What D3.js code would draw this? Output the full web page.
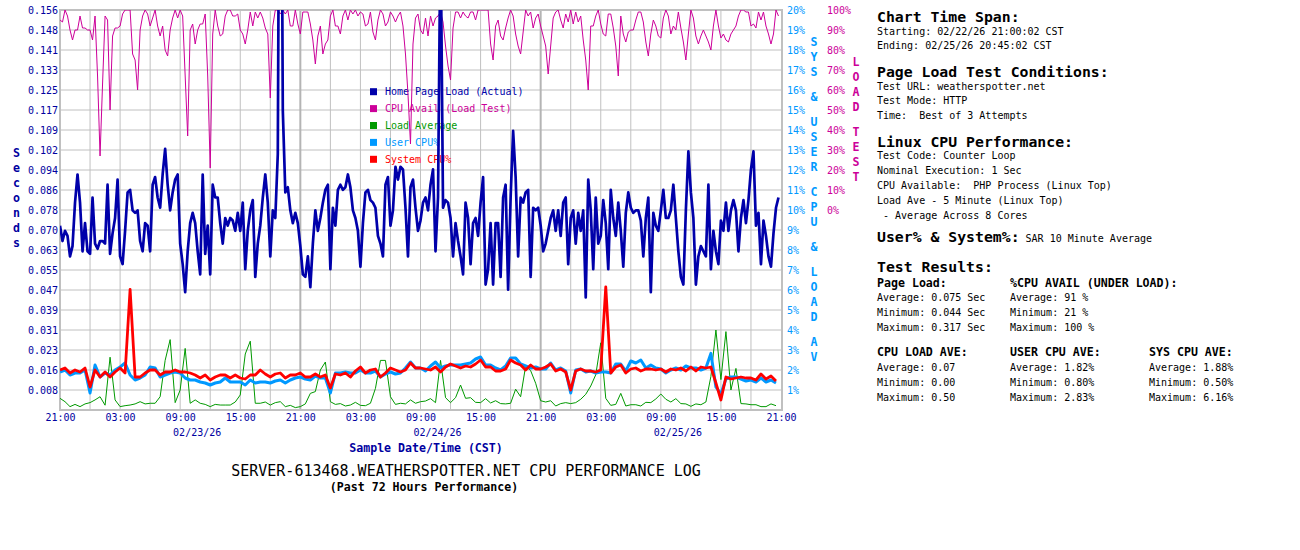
<!DOCTYPE html>
<html>
<head>
<meta charset="utf-8">
<title>CPU Performance Log</title>
<script src="https://cdn.jsdelivr.net/npm/d3@7"></script>
<style>
  body { margin: 0; background: #fff; }
  svg { display: block; }
  text { font-family: "DejaVu Sans Mono", "Liberation Mono", monospace; white-space: pre; }
</style>
</head>
<body>
<div id="chart"></div>
<script>
// ---- data read off the log ----
// home page load, one sample every 15 minutes (milliseconds)
const pageLoadMs = [
  72,66,70,68,60,64,81,92,81,62, 73,62,61,83,65,63,66,66,65,88,
  61,69,75,90,60,57,70,85,86,78, 77,78,66,62,73,72,62,88,91,83,
  79,92,102,88,78,85,90,92,65,57, 46,62,73,77,73,62,53,92,61,72,
  53,88,83,83,73,65,75,72,75,74, 70,77,70,
  81,55,70,78,82,52,65,72,83,92, 81,60,78,75,100,317,117,85,87,78,
  73,77,73,64,53,52,60,48,65,78, 70,75,81,86,88,55,79,72,86,88,
  86,87,92,87,78,75,70,56,73,85, 86,82,81,79,68,65,60,88,91,72,
  78,95,90,95,94,79,60,87,90,79, 70,74,
  81,83,78,88,94,62,83,190,79,82, 81,75,60,73,66,60,53,81,75,57,
  73,75,68,81,91,49,55,73,49,73, 73,52,83,88,47,83,109,91,60,83,
  81,85,86,52,79,78,79,72,62,65, 70,75,78,70,78,68,81,83,57,75,
  78,65,77,70,78,44,90,78,55,83, 65,68,
  82,73,55,86,75,68,81,70,56,77, 85,79,77,78,78,74,60,75,83,46,
  77,72,70,78,86,75,75,78,88,75, 62,52,49,78,101,85,75,49,60,64,
  62,60,88,55,70,62,57,74,70,81, 70,78,82,78,62,75,82,73,82,94,
  101,72,77,57,74,68,60,56,69,79, 83
];

// CPU available to the PHP load test, every 15 minutes (%)
const cpuAvail = [
  95,94,100,97,90,85,90,90,97,91, 91,90,90,85,97,67,27,63,97,95,
  50,87,91,91,92,98,100,100,100,78, 75,60,90,97,100,98,92,96,100,92,
  87,92,80,77,90,96,100,96,100,97, 67,37,90,93,83,90,93,93,98,67,
  21,88,100,92,87,88,97,100,100,97, 97,98,90,
  88,83,90,99,92,99,96,99,96,91, 88,56,92,100,100,98,100,98,100,92,
  92,100,93,88,99,99,99,93,85,73, 87,92,78,83,85,97,100,92,92,88,
  97,100,95,100,98,100,97,99,98,92, 93,99,89,85,95,100,98,92,94,99,
  97,94,97,99,92,78,58,33,83,96, 98,90,
  88,96,87,97,92,96,97,99,94,82, 72,65,91,99,99,96,99,97,96,99,
  99,95,100,100,100,100,100,83,75,92, 95,87,85,91,96,100,97,88,82,78,
  89,100,97,99,91,96,98,92,87,82, 68,82,96,99,100,95,91,98,94,100,
  93,99,94,97,85,75,60,92,92,97, 100,93,
  88,87,98,98,91,82,67,97,88,84, 89,90,90,95,99,99,94,84,77,88,
  95,92,87,86,96,100,97,88,92,90, 99,91,84,75,88,100,96,87,83,87,
  90,87,84,80,92,100,92,86,88,85, 84,88,90,92,97,100,100,99,99,92,
  93,91,99,95,99,92,88,83,88,100, 97
];

// 5 minute load average (per core), every 30 minutes
const loadAve = [
  0.073,0.052,0.021,0.035,0.021,0.038,0.046,0.063,0.083,0.03,0.33,0.063,0.021,0.027,0.031,0.038,0.052,0.038,0.042,0.042,
  0.083,0.31,0.44,0.046,0.125,0.385,0.042,0.063,0.042,0.035,0.021,0.035,0.031,0.031,0.031,0.05,0.094,
  0.35,0.43,0.042,0.042,0.05,0.031,0.046,0.052,0.021,0.029,0.015,0.021,0.038,0.104,0.115,0.25,0.30,0.052,0.035,0.04,
  0.025,0.031,0.048,0.029,0.027,0.042,0.135,0.31,0.31,0.083,0.035,0.042,0.038,0.063,0.042,0.052,
  0.056,0.071,0.046,0.31,0.077,0.046,0.077,0.156,0.073,0.077,0.048,0.046,0.071,0.044,0.058,0.04,0.038,0.042,0.13,0.083,
  0.275,0.246,0.167,0.058,0.05,0.058,0.025,0.04,0.046,0.04,0.046,0.067,0.098,0.15,0.22,0.42,
  0.073,0.029,0.035,0.104,0.025,0.033,0.033,0.025,0.048,0.046,0.069,0.1,0.067,0.05,0.071,0.04,0.038,0.023,0.038,0.033,
  0.05,0.21,0.50,0.19,0.49,0.125,0.26,0.04,0.038,0.033,0.033,0.021,0.021,0.038,0.027
];

// SAR user %, every 30 minutes
const userCpu = [
  1.9,2.0,1.75,1.85,1.85,2.0,0.85,2.25,1.65,1.85,1.75,2.0,2.15,2.35,1.75,1.5,1.6,1.75,2.15,2.1,
  1.65,1.75,1.85,1.9,1.85,1.6,1.5,1.5,1.4,1.35,1.25,1.35,1.4,1.6,1.4,1.4,1.4,
  1.25,1.5,1.35,1.4,1.4,1.35,1.45,1.5,1.35,1.5,1.6,1.65,1.55,1.5,1.7,1.6,1.6,0.85,1.85,1.85,
  1.9,1.85,1.85,2.0,1.85,1.85,1.95,1.65,1.8,1.9,1.8,1.85,2.1,2.4,2.1,2.1,
  1.95,2.2,2.4,2.1,2.2,2.25,2.25,2.25,2.3,2.35,2.55,2.65,2.25,2.25,2.1,2.0,2.2,2.6,2.6,2.3,
  2.2,2.1,2.15,2.05,2.05,2.35,2.0,2.1,1.95,0.85,2.0,2.05,1.9,1.95,1.85,1.9,
  1.9,1.85,2.3,2.3,1.95,2.45,2.35,2.5,2.1,2.25,2.1,2.05,1.85,2.0,2.1,2.0,2.2,2.1,2.1,2.0,
  2.1,2.83,1.15,0.8,1.55,1.65,1.65,1.55,1.45,1.5,1.4,1.6,1.4,1.5,1.35
];

// SAR system %, every 30 minutes
const sysCpu = [
  2.0,2.1,1.85,2.0,1.9,2.1,1.15,2.0,1.65,1.9,1.65,1.9,2.1,1.85,6.03,1.65,1.65,1.85,2.0,2.0,
  1.75,1.9,1.9,2.0,1.9,1.9,1.85,1.75,1.6,1.75,1.5,1.65,1.75,1.75,1.6,1.75,1.6,
  1.55,1.75,1.75,2.0,1.8,1.65,1.8,1.85,1.6,1.75,1.75,1.85,1.65,1.65,1.8,1.65,1.75,1.1,1.8,1.75,
  1.85,1.65,1.95,2.15,1.85,2.0,2.05,1.65,1.85,2.1,2.0,1.9,2.0,2.35,2.1,2.1,
  2.05,2.0,2.15,1.9,2.15,2.3,2.2,2.1,2.2,2.15,2.3,2.5,2.15,2.15,1.95,1.95,2.05,2.5,2.35,2.25,
  2.0,2.25,2.05,2.05,2.15,2.3,1.95,2.05,1.9,1.0,1.95,2.05,1.95,1.95,1.9,2.0,
  6.16,1.85,2.15,2.25,1.85,2.05,2.1,1.95,2.05,2.05,2.0,2.05,1.9,2.05,2.0,2.1,1.95,2.15,1.95,2.15,
  2.1,2.15,1.35,0.5,1.65,1.55,1.6,1.65,1.6,1.6,1.5,1.8,1.55,1.7,1.45
];

const legendNames = ["Home Page Load (Actual)", "CPU Avail (Load Test)", "Load Average", "User CPU%", "System CPU%"];
const legendColors = ["#0000aa", "#cc0099", "#009900", "#0099ff", "#ff0000"];
const secondsMax = 0.15625;
const pctMax = 20;
const loadToPct = 8;      // load average across 8 cores drawn on the % scale
const sideLeft = "Seconds";
const sideCpu = "SYS & USER CPU & LOAD AV";
const sideLoad = "LOAD TEST";

function init() {
    var w = 1300, h = 550;
    var plot = { left: 60, right: 781, top: 10, bottom: 410 };
    var HOUR = 3600e3;
    var start = Date.UTC(2026, 1, 22, 21, 0);   // wall clock CST
    var navy = "#0000a0";

    var svg = d3.select("#chart").append("svg")
        .attr("width", w).attr("height", h);

    var x = d3.scaleUtc()
        .domain([new Date(start), new Date(start + 72 * HOUR)])
        .range([plot.left, plot.right]);
    var ySec = d3.scaleLinear().domain([0, secondsMax]).range([plot.bottom, plot.top]);
    var yPct = d3.scaleLinear().domain([0, pctMax]).range([plot.bottom, plot.top]);
    var yAvail = d3.scaleLinear().domain([0, 100]).range([210, plot.top]);

    // grid
    var grid = svg.append("g").attr("stroke", "#c0c0c0");
    grid.selectAll(".hg")
        .data(d3.range(1, 20).map(i => i * secondsMax / 20))
        .enter().append("line")
        .attr("x1", plot.left).attr("x2", plot.right)
        .attr("y1", d => ySec(d)).attr("y2", d => ySec(d));
    grid.selectAll(".vg")
        .data(d3.range(1, 24))
        .enter().append("line")
        .attr("x1", d => x(new Date(start + d * 3 * HOUR)))
        .attr("x2", d => x(new Date(start + d * 3 * HOUR)))
        .attr("y1", plot.top).attr("y2", plot.bottom)
        .attr("stroke-width", d => d % 8 === 0 ? 2 : 1)
        .attr("stroke", d => d % 8 === 0 ? "#b4b4b4" : null);
    svg.append("rect")
        .attr("x", plot.left).attr("y", plot.top)
        .attr("width", plot.right - plot.left + 1).attr("height", plot.bottom - plot.top)
        .attr("fill", "none").attr("stroke", "#c0c0c0").attr("stroke-width", 2);

    // legend (drawn under the lines)
    var leg = svg.append("g");
    legendNames.forEach(function(name, i) {
        var yy = 91.7 + i * 16.9;
        leg.append("rect").attr("x", 370).attr("y", yy - 3.5).attr("width", 7).attr("height", 7)
            .attr("fill", legendColors[i]);
        leg.append("text").attr("x", 385).attr("y", yy + 3.6)
            .attr("font-size", 10).attr("fill", legendColors[i]).text(name);
    });

    // clip
    svg.append("clipPath").attr("id", "plotclip").append("rect")
        .attr("x", plot.left).attr("y", plot.top)
        .attr("width", plot.right - plot.left + 1).attr("height", plot.bottom - plot.top);
    var lines = svg.append("g").attr("clip-path", "url(#plotclip)")
        .attr("fill", "none").attr("stroke-linejoin", "round");

    var t15 = i => new Date(start + i * 15 * 60e3);
    var t30 = i => new Date(start + i * 30 * 60e3);

    lines.append("path").datum(cpuAvail)
        .attr("stroke", legendColors[1]).attr("stroke-width", 1)
        .attr("d", d3.line().x((d, i) => x(t15(i))).y(d => yAvail(d)));
    lines.append("path").datum(loadAve)
        .attr("stroke", legendColors[2]).attr("stroke-width", 1)
        .attr("d", d3.line().x((d, i) => x(t30(i))).y(d => yPct(d * loadToPct)));
    lines.append("path").datum(userCpu)
        .attr("stroke", legendColors[3]).attr("stroke-width", 3)
        .attr("d", d3.line().x((d, i) => x(t30(i))).y(d => yPct(d)));
    lines.append("path").datum(sysCpu)
        .attr("stroke", legendColors[4]).attr("stroke-width", 2.8)
        .attr("d", d3.line().x((d, i) => x(t30(i))).y(d => yPct(d)));
    lines.append("path").datum(pageLoadMs)
        .attr("stroke", legendColors[0]).attr("stroke-width", 2.7)
        .attr("d", d3.line().x((d, i) => x(t15(i))).y(d => ySec(d / 1000)));

    // axes
    function plain(g, color) {
        g.select(".domain").remove();
        g.attr("font-family", null).attr("font-size", 10);
        g.selectAll("text").attr("fill", color);
    }
    svg.append("g")
        .attr("transform", `translate(${plot.left},0)`)
        .call(d3.axisLeft(ySec)
            .tickValues(d3.range(1, 21).map(i => i * secondsMax / 20))
            .tickFormat(d3.format(".3f")).tickSize(0).tickPadding(2))
        .call(g => plain(g, navy));
    svg.append("g")
        .attr("transform", `translate(${plot.right},0)`)
        .call(d3.axisRight(yPct).tickValues(d3.range(1, 21))
            .tickFormat(d => d + "%").tickSize(0).tickPadding(6))
        .call(g => plain(g, "#0099ff"));
    svg.append("g")
        .attr("transform", "translate(821,0)")
        .call(d3.axisRight(yAvail).tickValues(d3.range(0, 101, 10))
            .tickFormat(d => d + "%").tickSize(0).tickPadding(6))
        .call(g => plain(g, legendColors[1]));
    svg.append("g")
        .attr("transform", `translate(0,${plot.bottom})`)
        .call(d3.axisBottom(x)
            .tickValues(d3.range(0, 13).map(i => new Date(start + i * 6 * HOUR)))
            .tickFormat(d3.utcFormat("%H:%M")).tickSize(0).tickPadding(3.5))
        .call(g => plain(g, navy));

    // date labels under the time ticks
    var fmtDate = d3.utcFormat("%m/%d/%y");
    svg.append("g").selectAll("text")
        .data(d3.range(0, 3).map(i => new Date(start + (13.7 + 24 * i) * HOUR)))
        .enter().append("text")
        .attr("x", d => x(d)).attr("y", 436)
        .attr("text-anchor", "middle").attr("font-size", 10).attr("fill", navy)
        .text(d => fmtDate(d));

    svg.append("text").attr("x", 426).attr("y", 451.5)
        .attr("text-anchor", "middle").attr("font-size", 11.6).attr("font-weight", "bold")
        .attr("fill", navy).text("Sample Date/Time (CST)");
    svg.append("text").attr("x", 466).attr("y", 475.5)
        .attr("text-anchor", "middle").attr("font-size", 15).attr("fill", "#000")
        .text("SERVER-613468.WEATHERSPOTTER.NET CPU PERFORMANCE LOG");
    svg.append("text").attr("x", 424).attr("y", 491)
        .attr("text-anchor", "middle").attr("font-size", 11.6).attr("font-weight", "bold")
        .attr("fill", "#000").text("(Past 72 Hours Performance)");

    // stacked vertical axis titles
    function stack(str, cx, cy, color) {
        var yy = cy;
        str.split("").forEach(function(ch) {
            if (ch === " ") { yy += 10; return; }
            svg.append("text").attr("x", cx).attr("y", yy + 4.2)
                .attr("text-anchor", "middle").attr("font-size", 11.6).attr("font-weight", "bold")
                .attr("fill", color).text(ch);
            yy += 15;
        });
    }
    stack(sideLeft, 16.5, 153, navy);
    stack(sideCpu, 814, 42, "#0099ff");
    stack(sideLoad, 856, 62, legendColors[1]);

    // info panel
    var panel = svg.append("g").attr("fill", "#000");
    function head(txt, px, py) {
        return panel.append("text").attr("x", px).attr("y", py)
            .attr("font-size", 14.8).attr("font-weight", "bold").text(txt);
    }
    function sub(txt, px, py) {
        panel.append("text").attr("x", px).attr("y", py)
            .attr("font-size", 11.6).attr("font-weight", "bold").text(txt);
    }
    function line(txt, px, py) {
        panel.append("text").attr("x", px).attr("y", py).attr("font-size", 10).text(txt);
    }
    var L = 877, C2 = 1010, C3 = 1149;
    head("Chart Time Span:", L, 21.5);
    line("Starting: 02/22/26 21:00:02 CST", L, 34.7);
    line("Ending: 02/25/26 20:45:02 CST", L, 49);
    head("Page Load Test Conditions:", L, 76.5);
    line("Test URL: weatherspotter.net", L, 89.7);
    line("Test Mode: HTTP", L, 104);
    line("Time:  Best of 3 Attempts", L, 119);
    head("Linux CPU Performance:", L, 147);
    line("Test Code: Counter Loop", L, 159);
    line("Nominal Execution: 1 Sec", L, 174);
    line("CPU Available:  PHP Process (Linux Top)", L, 189);
    line("Load Ave - 5 Minute (Linux Top)", L, 204);
    line(" - Average Across 8 Cores", L, 219);
    var us = head("User% & System%:", L, 242);
    us.append("tspan").attr("font-size", 10).attr("font-weight", "normal")
        .text(" SAR 10 Minute Average");
    head("Test Results:", L, 271.5);
    sub("Page Load:", L, 286.5);
    sub("%CPU AVAIL (UNDER LOAD):", C2, 286.5);
    line("Average: 0.075 Sec", L, 301.3);
    line("Minimum: 0.044 Sec", L, 316.3);
    line("Maximum: 0.317 Sec", L, 331.3);
    line("Average: 91 %", C2, 301.3);
    line("Minimum: 21 %", C2, 316.3);
    line("Maximum: 100 %", C2, 331.3);
    sub("CPU LOAD AVE:", L, 356);
    sub("USER CPU AVE:", C2, 356);
    sub("SYS CPU AVE:", C3, 356);
    line("Average: 0.07", L, 370.7);
    line("Minimum: 0.00", L, 385.7);
    line("Maximum: 0.50", L, 400.7);
    line("Average: 1.82%", C2, 370.7);
    line("Minimum: 0.80%", C2, 385.7);
    line("Maximum: 2.83%", C2, 400.7);
    line("Average: 1.88%", C3, 370.7);
    line("Minimum: 0.50%", C3, 385.7);
    line("Maximum: 6.16%", C3, 400.7);
}

window.onload = init;
</script>
</body>
</html>
